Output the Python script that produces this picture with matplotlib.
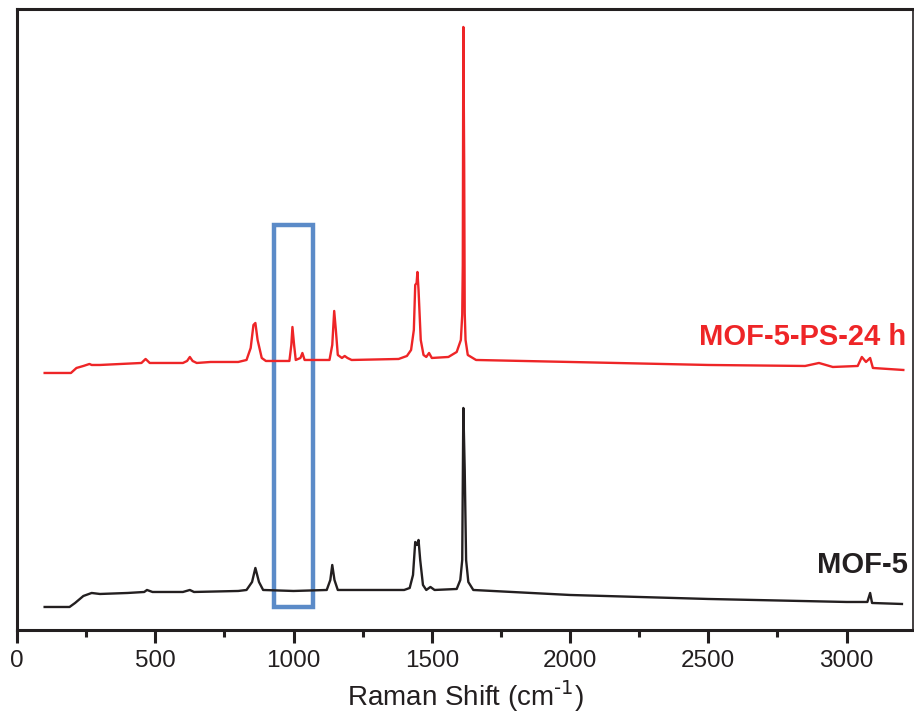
import matplotlib
matplotlib.use("Agg")
import matplotlib.pyplot as plt
from matplotlib.ticker import MultipleLocator
from matplotlib.patches import Rectangle

plt.rcParams['font.family'] = ['Liberation Sans', 'DejaVu Sans']

# Raman shift (cm^-1) and intensity (a.u.)
mof5_x = [100, 190, 210, 240, 270, 300, 400, 460, 470, 490, 600, 625, 640, 800, 830,
          850, 862, 875, 890, 1000, 1120, 1133, 1140, 1148, 1160, 1400, 1420, 1432,
          1440, 1446, 1452, 1458, 1468, 1480, 1495, 1510, 1590, 1603, 1610, 1614,
          1619, 1624, 1632, 1650, 2000, 2500, 3000, 3075, 3085, 3092, 3200]
mof5_y = [23, 23, 27, 34, 37, 36, 37, 38, 40, 38, 38, 40, 38, 39, 40,
          48, 62, 48, 40, 39, 40, 50, 65, 50, 40, 40, 42, 55,
          88, 85, 90, 70, 45, 40, 43, 40, 41, 50, 70, 222,
          160, 70, 48, 40, 35, 31, 28, 28, 37, 27, 26]

ps_x = [100, 195, 215, 240, 262, 270, 300, 450, 465, 480, 600, 615, 625, 635, 650,
        700, 800, 830, 845, 855, 862, 870, 885, 900, 985, 992, 996, 1002, 1008,
        1025, 1032, 1040, 1130, 1140, 1147, 1153, 1160, 1175, 1185, 1195, 1210,
        1380, 1410, 1425, 1435, 1440, 1445, 1448, 1452, 1460, 1470, 1480, 1490,
        1500, 1560, 1590, 1605, 1610, 1612, 1614, 1617, 1619, 1622, 1630, 1660,
        2000, 2500, 2850, 2900, 2950, 3040, 3055, 3070, 3085, 3095, 3205]
ps_y = [257, 257, 262, 264, 266, 265, 265, 267, 271, 267, 267, 269, 273, 269, 267,
        268, 268, 270, 282, 305, 307, 290, 272, 269, 269, 285, 303, 285, 270,
        272, 277, 270, 270, 285, 319, 300, 275, 272, 274, 272, 270,
        271, 274, 280, 300, 345, 347, 358, 340, 290, 275, 273, 277,
        272, 273, 278, 290, 315, 365, 603, 467, 317, 290, 275, 270,
        268, 265, 264, 267, 263, 264, 273, 268, 272, 262, 260]

box_x = [930, 1072]
box_y = [23, 405]

fig = plt.figure(figsize=(9.14, 7.12), dpi=100)
ax = fig.add_axes([0.0186, 0.1152, 0.9803, 0.8722])

ax.plot(mof5_x, mof5_y, color='#231f20', lw=1.7)
ax.plot(ps_x, ps_y, color='#ee2527', lw=1.7)

ax.add_patch(Rectangle((box_x[0], box_y[0]), box_x[1] - box_x[0], box_y[1] - box_y[0],
                       fill=False, edgecolor='#5b8bc8', lw=3.2))

ax.set_xlim(0, 3240)
ax.set_ylim(0, 621)

ax.xaxis.set_major_locator(MultipleLocator(500))
ax.xaxis.set_minor_locator(MultipleLocator(250))
ax.tick_params(axis='x', which='major', direction='out', length=9.5, width=2.2,
               labelsize=17.5, pad=5, colors='#231f20')
ax.tick_params(axis='x', which='minor', direction='out', length=5, width=2.2,
               colors='#231f20')
ax.set_yticks([])
for s in ax.spines.values():
    s.set_linewidth(2.2)
    s.set_color('#231f20')
ax.spines['right'].set_linewidth(1.2)

ax.set_xlabel('Raman Shift (cm$^{\\text{-1}}$)', fontsize=20, labelpad=4,
              color='#231f20')

ax.text(3215, 293, 'MOF-5-PS-24 h', color='#ee2527', fontsize=21, fontweight='bold',
        ha='right', va='center')
ax.text(3220, 65, 'MOF-5', color='#231f20', fontsize=21, fontweight='bold',
        ha='right', va='center')

fig.savefig('out.png', dpi=100)
